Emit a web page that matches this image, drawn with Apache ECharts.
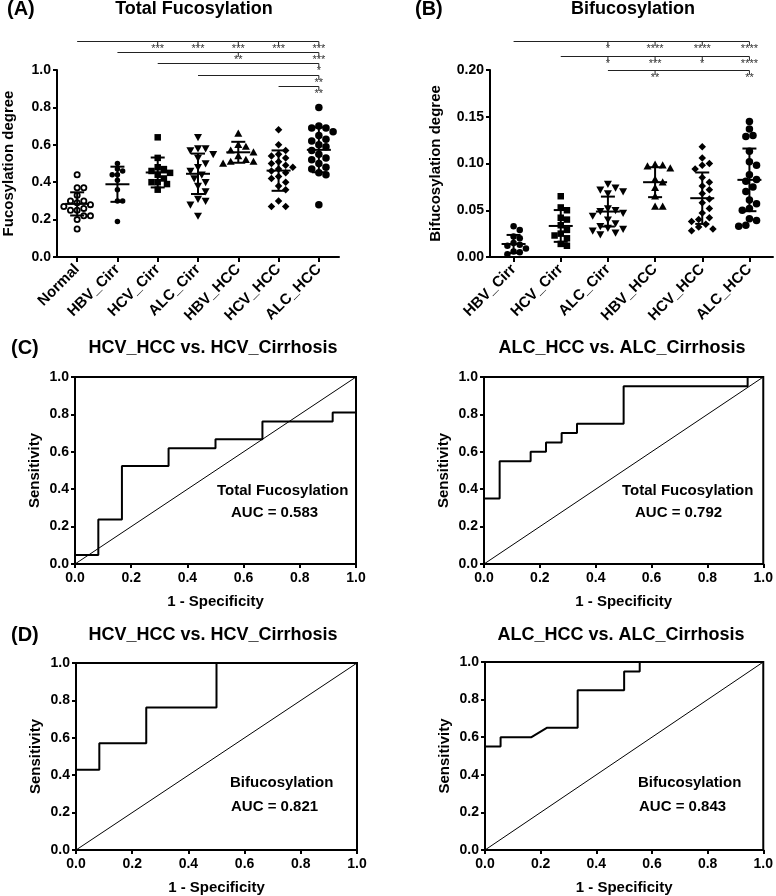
<!DOCTYPE html>
<html><head><meta charset="utf-8">
<script src="https://cdn.jsdelivr.net/npm/echarts@6/dist/echarts.min.js"></script>
<style>html,body{margin:0;padding:0;background:#fff}#c{width:776px;height:896px}</style>
</head><body><div id="c"></div>
<script>
// ---------- Panel A: Total fucosylation ----------
const catsA = ['Normal','HBV_Cirr','HCV_Cirr','ALC_Cirr','HBV_HCC','HCV_HCC','ALC_HCC'];
const ticksA = ['0.0','0.2','0.4','0.6','0.8','1.0'];
const normalA  = [0.44,0.37,0.37,0.33,0.30,0.30,0.29,0.28,0.27,0.26,0.25,0.25,0.22,0.22,0.20,0.15];
const hbvCirrA = [0.50,0.47,0.46,0.44,0.44,0.41,0.36,0.30,0.30,0.19];
const hcvCirrA = [0.64,0.53,0.48,0.47,0.46,0.45,0.44,0.42,0.40,0.40,0.39,0.36];
const alcCirrA = [0.64,0.58,0.58,0.57,0.55,0.53,0.50,0.48,0.46,0.44,0.42,0.40,0.38,0.35,0.31,0.30,0.28,0.22];
const hbvHccA  = [0.66,0.60,0.59,0.57,0.56,0.54,0.52,0.51,0.51,0.50];
const hcvHccA  = [0.68,0.60,0.57,0.55,0.54,0.53,0.51,0.50,0.49,0.48,0.47,0.46,0.45,0.43,0.42,0.40,0.38,0.36,0.30,0.27,0.27];
const alcHccA  = [0.80,0.70,0.69,0.69,0.67,0.65,0.63,0.62,0.60,0.59,0.57,0.55,0.53,0.52,0.50,0.48,0.47,0.45,0.44,0.28];
const meanA = [0.284,0.389,0.452,0.445,0.560,0.462,0.573];
const sdA   = [0.062,0.094,0.080,0.108,0.056,0.108,0.120];
const sigFromA  = [0,1,2,3,5];
const sigToA    = [[2,3,4,5,6],[4,6],[6],[6],[6]];
const sigStarsA = [['***','***','***','***','***'],['**','***'],['*'],['**'],['**']];

// ---------- Panel B: Bifucosylation ----------
const catsB = ['HBV_Cirr','HCV_Cirr','ALC_Cirr','HBV_HCC','HCV_HCC','ALC_HCC'];
const ticksB = ['0.00','0.05','0.10','0.15','0.20'];
const hbvCirrB = [0.033,0.029,0.022,0.020,0.015,0.013,0.012,0.009,0.006,0.005,0.003];
const hcvCirrB = [0.065,0.053,0.050,0.042,0.040,0.034,0.029,0.025,0.023,0.020,0.014,0.012];
const alcCirrB = [0.078,0.074,0.072,0.070,0.068,0.052,0.050,0.049,0.047,0.044,0.040,0.036,0.033,0.031,0.030,0.028,0.026,0.024];
const hbvHccB  = [0.099,0.098,0.097,0.095,0.083,0.080,0.074,0.065,0.054,0.054];
const hcvHccB  = [0.118,0.106,0.100,0.098,0.094,0.085,0.080,0.076,0.072,0.068,0.062,0.058,0.052,0.047,0.042,0.040,0.038,0.035,0.032,0.030,0.028];
const alcHccB  = [0.145,0.137,0.130,0.129,0.113,0.102,0.098,0.088,0.083,0.081,0.075,0.070,0.061,0.057,0.052,0.050,0.041,0.039,0.034,0.033];
const meanB = [0.0139,0.0332,0.0486,0.0800,0.0629,0.0825];
const sdB   = [0.0097,0.0170,0.0160,0.0160,0.0275,0.0335];
const sigFromB  = [0,1,2];
const sigToB    = [[2,3,4,5],[2,3,4,5],[3,5]];
const sigStarsB = [['*','****','****','****'],['*','***','*','****'],['**','**']];

// ---------- ROC curves ----------
const rocTicks = ['0.0','0.2','0.4','0.6','0.8','1.0'];
const rocC1X = [0,0,0.083,0.083,0.167,0.167,0.333,0.333,0.5,0.5,0.667,0.667,0.917,0.917,1,1];
const rocC1Y = [0,0.048,0.048,0.238,0.238,0.524,0.524,0.619,0.619,0.667,0.667,0.762,0.762,0.81,0.81,1];
const rocC2X = [0,0,0.056,0.056,0.167,0.167,0.222,0.222,0.278,0.278,0.333,0.333,0.5,0.5,0.944,0.944,1];
const rocC2Y = [0,0.35,0.35,0.55,0.55,0.6,0.6,0.65,0.65,0.7,0.7,0.75,0.75,0.95,0.95,1,1];
const rocD1X = [0,0,0.083,0.083,0.25,0.25,0.5,0.5,1];
const rocD1Y = [0,0.429,0.429,0.571,0.571,0.762,0.762,1,1];
const rocD2X = [0,0,0.056,0.056,0.167,0.222,0.333,0.333,0.5,0.5,0.556,0.556,1];
const rocD2Y = [0,0.55,0.55,0.6,0.6,0.65,0.65,0.85,0.85,0.95,0.95,1,1];
const diagX = [0,1];
const diagY = [0,1];

// ---------- rendering ----------
const FONT = '"Liberation Sans", Arial, sans-serif';
const groupsA = [normalA,hbvCirrA,hcvCirrA,alcCirrA,hbvHccA,hcvHccA,alcHccA];
const groupsB = [hbvCirrB,hcvCirrB,alcCirrB,hbvHccB,hcvHccB,alcHccB];
const symA = ['ocircle','circle','square','dtri','tri','diamond','circle'];
const sizeA = [7,5.5,6.5,8,8,7.5,7.5];
const symB = ['circle','square','dtri','tri','diamond','circle'];
const sizeB = [6.5,6.5,8,8,7.5,7.5];

function swarm(ys, d) {
  const order = ys.map((y,i)=>i).sort((a,b)=>ys[a]-ys[b]);
  const placed = [], xs = new Array(ys.length);
  const cands = [0];
  for (let j=1;j<30;j++){ cands.push(j*d*0.5, -j*d*0.5); }
  for (const i of order) {
    const y = ys[i];
    let off = 0;
    for (const c of cands) {
      let ok = true;
      for (const p of placed) { const dx=p[0]-c, dy=p[1]-y; if (dx*dx+dy*dy < d*d) { ok=false; break; } }
      if (ok) { off = c; break; }
    }
    xs[i] = off; placed.push([off,y]);
  }
  return xs;
}
function sym(type, x, y, s) {
  const h = s/2;
  const f = {fill:'#000'};
  switch (type) {
    case 'ocircle': return {type:'circle', shape:{cx:x,cy:y,r:h-0.9}, style:{fill:'rgba(0,0,0,0)', stroke:'#000', lineWidth:1.8}};
    case 'circle': return {type:'circle', shape:{cx:x,cy:y,r:h}, style:f};
    case 'square': return {type:'rect', shape:{x:x-h,y:y-h,width:s,height:s}, style:f};
    case 'tri': return {type:'polygon', shape:{points:[[x,y-h],[x+h,y+h*0.8],[x-h,y+h*0.8]]}, style:f};
    case 'dtri': return {type:'polygon', shape:{points:[[x-h,y-h*0.8],[x+h,y-h*0.8],[x,y+h]]}, style:f};
    case 'diamond': return {type:'polygon', shape:{points:[[x,y-h],[x+h,y],[x,y+h],[x-h,y]]}, style:f};
  }
}
function scatterRender(groups, means, sds, syms, sizes) {
  return function(params, api) {
    const i = params.dataIndex;
    const cx = api.coord([i, 0])[0];
    const ys = groups[i].map(v => api.coord([i, v])[1]);
    const xs = swarm(ys, sizes[i]*0.95);
    const ch = ys.map((y,k) => sym(syms[i], cx + xs[k], y, sizes[i]));
    const my = api.coord([i, means[i]])[1];
    const ty = api.coord([i, means[i]+sds[i]])[1];
    const by = api.coord([i, means[i]-sds[i]])[1];
    const ls = {stroke:'#000', lineWidth:2};
    ch.push({type:'line', shape:{x1:cx-12,y1:my,x2:cx+12,y2:my}, style:ls});
    ch.push({type:'line', shape:{x1:cx,y1:ty,x2:cx,y2:by}, style:ls});
    ch.push({type:'line', shape:{x1:cx-7,y1:ty,x2:cx+7,y2:ty}, style:ls});
    ch.push({type:'line', shape:{x1:cx-7,y1:by,x2:cx+7,y2:by}, style:ls});
    return {type:'group', children:ch};
  };
}
function sigRender(from, to, stars, refVal, off0, step) {
  return function(params, api) {
    const ref = api.coord([0, refVal])[1];
    const ch = [];
    from.forEach((f, k) => {
      const y = Math.round(ref + off0 + step*k) + 0.5;
      const x1 = api.coord([f, refVal])[0];
      const last = to[k][to[k].length-1];
      const x2 = api.coord([last, refVal])[0];
      ch.push({type:'line', shape:{x1:x1, y1:y, x2:x2, y2:y}, style:{stroke:'#222', lineWidth:1}});
      to[k].forEach((t, j) => {
        const x = api.coord([t, refVal])[0];
        ch.push({type:'line', shape:{x1:x, y1:y, x2:x, y2:y+4}, style:{stroke:'#222', lineWidth:1}});
        ch.push({type:'text', style:{text:stars[k][j], x:x, y:y+2, align:'center', verticalAlign:'top', fontSize:11, fontFamily:FONT, fill:'#333'}});
      });
    });
    return {type:'group', children:ch};
  };
}

const axLine = {show:true, lineStyle:{color:'#000', width:2}};
const axTick = {show:true, length:4, lineStyle:{color:'#000', width:2}};
const lblStyle = {color:'#000', fontWeight:'bold', fontSize:14, fontFamily:FONT};
const catStyle = {color:'#000', fontWeight:'bold', fontSize:15, fontFamily:FONT};
const nameStyle = {color:'#000', fontWeight:'bold', fontSize:15, fontFamily:FONT};
const rocGridStyle = {show:true, borderColor:'#000', borderWidth:2, backgroundColor:'transparent'};

const grids = [
  {left:57, top:70, width:282, height:187},
  {left:490, top:70, width:283, height:187},
  Object.assign({left:75, top:377, width:281, height:187}, rocGridStyle),
  Object.assign({left:484, top:377, width:282, height:187}, rocGridStyle),
  Object.assign({left:76, top:663, width:281, height:187}, rocGridStyle),
  Object.assign({left:485, top:662, width:282, height:188}, rocGridStyle)
];

const xAxes = [
  {gridIndex:0, type:'category', data:catsA, axisLine:axLine, axisTick:Object.assign({alignWithLabel:true}, axTick, {length:5}),
   axisLabel:Object.assign({rotate:45, margin:10, interval:0}, catStyle)},
  {gridIndex:1, type:'category', data:catsB, axisLine:axLine, axisTick:Object.assign({alignWithLabel:true}, axTick, {length:5}),
   axisLabel:Object.assign({rotate:45, margin:10, interval:0}, catStyle)}
];
const yAxes = [
  {gridIndex:0, type:'value', min:0, max:1, interval:0.2, splitLine:{show:false}, axisLine:axLine, axisTick:axTick,
   axisLabel:Object.assign({margin:6, formatter:(v,i)=>ticksA[i]}, lblStyle),
   name:'Fucosylation degree', nameLocation:'middle', nameGap:41, nameTextStyle:nameStyle},
  {gridIndex:1, type:'value', min:0, max:0.2, interval:0.05, splitLine:{show:false}, axisLine:axLine, axisTick:axTick,
   axisLabel:Object.assign({margin:6, formatter:(v,i)=>ticksB[i]}, lblStyle),
   name:'Bifucosylation degree', nameLocation:'middle', nameGap:47, nameTextStyle:nameStyle}
];
for (let g=2; g<6; g++) {
  xAxes.push({gridIndex:g, type:'value', min:0, max:1, interval:0.2, splitLine:{show:false}, axisLine:axLine, axisTick:axTick,
    axisLabel:Object.assign({margin:7, formatter:(v,i)=>rocTicks[i]}, lblStyle),
    name:'1 - Specificity', nameLocation:'middle', nameGap:30, nameTextStyle:nameStyle});
  yAxes.push({gridIndex:g, type:'value', min:0, max:1, interval:0.2, splitLine:{show:false}, axisLine:axLine, axisTick:axTick,
    axisLabel:Object.assign({margin:6, formatter:(v,i)=>rocTicks[i]}, lblStyle),
    name:'Sensitivity', nameLocation:'middle', nameGap:33, nameTextStyle:nameStyle});
}

const series = [
  {type:'custom', xAxisIndex:0, yAxisIndex:0, clip:false, data:catsA.map((c,i)=>[i, meanA[i]]),
   encode:{x:0, y:1}, renderItem:scatterRender(groupsA, meanA, sdA, symA, sizeA), z:5},
  {type:'custom', xAxisIndex:0, yAxisIndex:0, clip:false, data:[[0,1]], encode:{x:0,y:1},
   renderItem:sigRender(sigFromA, sigToA, sigStarsA, 1.0, -29.5, 11.4)},
  {type:'custom', xAxisIndex:1, yAxisIndex:1, clip:false, data:catsB.map((c,i)=>[i, meanB[i]]),
   encode:{x:0, y:1}, renderItem:scatterRender(groupsB, meanB, sdB, symB, sizeB), z:5},
  {type:'custom', xAxisIndex:1, yAxisIndex:1, clip:false, data:[[0,0.2]], encode:{x:0,y:1},
   renderItem:sigRender(sigFromB, sigToB, sigStarsB, 0.2, -28.7, 14.35)}
];
const rocs = [[rocC1X,rocC1Y],[rocC2X,rocC2Y],[rocD1X,rocD1Y],[rocD2X,rocD2Y]];
rocs.forEach((r, k) => {
  series.push({type:'line', xAxisIndex:k+2, yAxisIndex:k+2, data:diagX.map((x,i)=>[x, diagY[i]]),
    symbol:'none', lineStyle:{color:'#000', width:1}, silent:true});
  series.push({type:'line', xAxisIndex:k+2, yAxisIndex:k+2, data:r[0].map((x,i)=>[x, r[1][i]]),
    symbol:'none', lineStyle:{color:'#000', width:2}, clip:false, silent:true});
});

function txt(text, x, y, size, align) {
  return {type:'text', x:x, y:y, silent:true,
    style:{text:text, fontSize:size, fontWeight:'bold', fontFamily:FONT, fill:'#000', align:align||'left', verticalAlign:'middle'}};
}
const graphics = [
  txt('(A)', 7, 9, 20), txt('Total Fucosylation', 194, 9, 18, 'center'),
  txt('(B)', 415, 9, 20), txt('Bifucosylation', 633, 9, 18, 'center'),
  txt('(C)', 11, 348, 20), txt('HCV_HCC vs. HCV_Cirrhosis', 213, 348, 18, 'center'),
  txt('ALC_HCC vs. ALC_Cirrhosis', 622, 348, 18, 'center'),
  txt('(D)', 11, 635, 20), txt('HCV_HCC vs. HCV_Cirrhosis', 213, 635, 18, 'center'),
  txt('ALC_HCC vs. ALC_Cirrhosis', 621, 635, 18, 'center'),
  txt('Total Fucosylation', 217, 491, 15), txt('AUC = 0.583', 231, 513, 15),
  txt('Total Fucosylation', 622, 491, 15), txt('AUC = 0.792', 635, 513, 15),
  txt('Bifucosylation', 230, 783, 15), txt('AUC = 0.821', 231, 807, 15),
  txt('Bifucosylation', 638, 783, 15), txt('AUC = 0.843', 639, 807, 15)
];

const chart = echarts.init(document.getElementById('c'));
chart.setOption({
  animation:false,
  backgroundColor:'#fff',
  grid:grids, xAxis:xAxes, yAxis:yAxes, series:series, graphic:graphics
});
</script>
</body></html>
